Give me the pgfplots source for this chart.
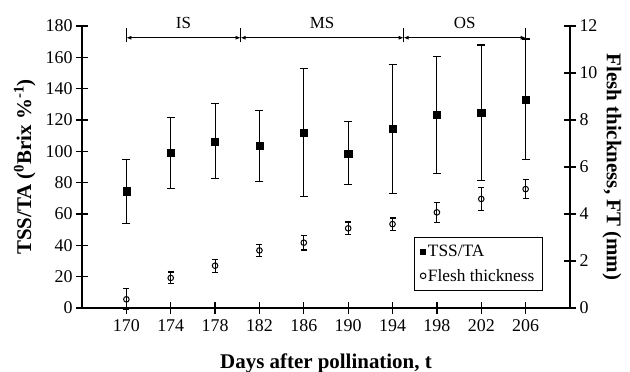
\documentclass[border=0pt]{standalone}
\usepackage{fontspec}
\setmainfont{Liberation Serif}
\usepackage{pgfplots}
\usepackage{pgfplotstable}
\pgfplotsset{compat=1.18}
\usetikzlibrary{arrows.meta}

\pgfplotstableread{
x y e
170 74.5 20.5
174 99.0 22.5
178 106.4 24.0
182 103.4 22.7
186 112.0 40.8
190 98.7 20.1
194 114.2 41.0
198 123.4 37.4
202 124.7 43.2
206 133.2 38.5
}\tssdata

\pgfplotstableread{
x y e
170 0.37 0.45
174 1.28 0.25
178 1.80 0.28
182 2.45 0.25
186 2.78 0.31
190 3.39 0.27
194 3.57 0.26
198 4.07 0.43
202 4.64 0.50
206 5.06 0.40
}\ftdata

\begin{document}
\begin{tikzpicture}
\pgfplotsset{
  common/.style={
    scale only axis, width=488bp, height=282bp,
    xmin=166, xmax=210,
    tick align=center, major tick length=12bp,
    axis line style={line width=1.2bp, black},
    tick style={line width=1.2bp, black},
    ticklabel style={font=\fontsize{18}{20}\selectfont},
    label style={font=\fontsize{21}{24}\selectfont\bfseries},
    /pgf/number format/assume math mode=true,
    clip=false,
  }
}
\begin{axis}[common,
  ymin=0, ymax=180,
  axis y line*=left, axis x line*=bottom,
  xtick={170,174,...,206}, ytick={0,20,...,180},
  xticklabel style={yshift=-2bp},
  xlabel={Days after pollination, t},
  ylabel={TSS/TA (\textsuperscript{0}Brix \%\textsuperscript{-1})},
  xlabel style={at={(axis description cs:0.5,-0.2128)}, anchor=base},
  ylabel style={at={(axis description cs:-0.1045,0.5)}, anchor=base},
]
\addplot[only marks, mark=square*, mark size=3.6bp, black,
  error bars/.cd, y dir=both, y explicit,
  error bar style={line width=1.1bp, black},
  error mark options={rotate=90, mark size=4bp, line width=1.1bp, black}]
  table[x=x, y=y, y error=e] {\tssdata};

\begin{scope}[line width=0.8bp]
\draw[{Latex[length=5bp,width=4bp]}-{Latex[length=5bp,width=4bp]}] (axis cs:170,172.5) -- (axis cs:180.3,172.5);
\draw[{Latex[length=5bp,width=4bp]}-{Latex[length=5bp,width=4bp]}] (axis cs:180.3,172.5) -- (axis cs:195,172.5);
\draw[{Latex[length=5bp,width=4bp]}-{Latex[length=5bp,width=4bp]}] (axis cs:195,172.5) -- (axis cs:206,172.5);
\draw (axis cs:170,169.5) -- (axis cs:170,178.5);
\draw (axis cs:180.3,169.5) -- (axis cs:180.3,178.5);
\draw (axis cs:195,169.5) -- (axis cs:195,178.5);
\draw (axis cs:206,169.5) -- (axis cs:206,178.5);
\end{scope}
\node[anchor=base, font=\fontsize{17}{19}\selectfont] at (axis cs:175.15,178.7) {IS};
\node[anchor=base, font=\fontsize{17}{19}\selectfont] at (axis cs:187.65,178.7) {MS};
\node[anchor=base, font=\fontsize{17}{19}\selectfont] at (axis cs:200.5,178.7) {OS};
\end{axis}

\begin{axis}[common,
  ymin=0, ymax=12,
  axis y line*=right, axis x line=none,
  ytick={0,2,...,12},
  ylabel={Flesh thickness, FT (mm)},
  ylabel style={at={(axis description cs:1.0758,0.5)}, anchor=base, rotate=180},
  legend style={at={(axis description cs:0.68,0.06)}, anchor=south west,
    draw=black, line width=1bp, font=\fontsize{17.4}{20}\selectfont,
    inner xsep=6bp, inner ysep=6bp, row sep=7bp},
  legend cell align=left,
]
\addlegendimage{only marks, mark=square*, mark size=2.5bp, black}
\addlegendentry{TSS/TA}
\addplot[only marks, mark=o, mark size=2.8bp, black, line width=1bp,
  mark options={fill=white},
  error bars/.cd, y dir=both, y explicit,
  error bar style={line width=1.1bp, black},
  error mark options={rotate=90, mark size=3bp, line width=1.1bp, black}]
  table[x=x, y=y, y error=e] {\ftdata};
\addlegendentry{Flesh thickness}
\end{axis}
\pgfresetboundingbox
\path[use as bounding box] (-82bp,-64bp) rectangle (548bp,308bp);
\end{tikzpicture}
\end{document}
